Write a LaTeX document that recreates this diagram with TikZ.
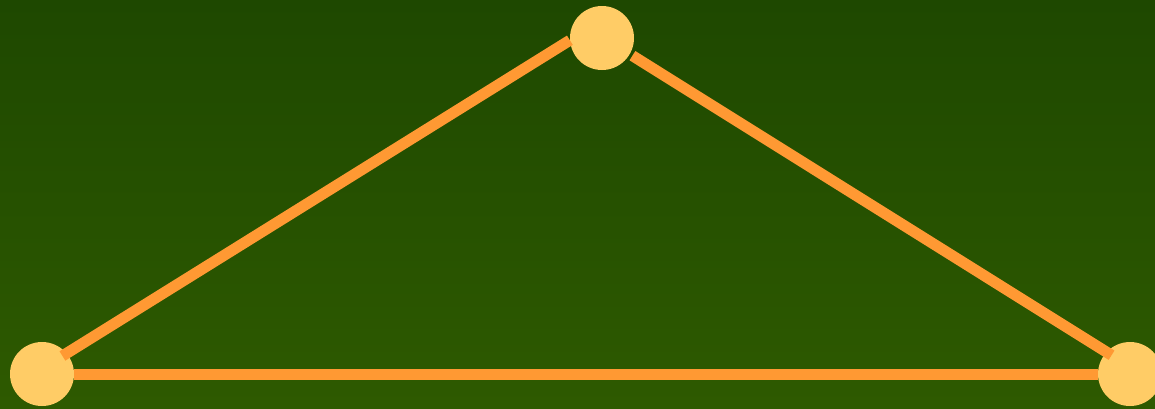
\documentclass[tikz,border=0pt]{standalone}
\usetikzlibrary{positioning}

\definecolor{bgtop}{RGB}{30,72,0}
\definecolor{bgbottom}{RGB}{46,90,0}
\definecolor{vertexfill}{RGB}{255,204,102}
\definecolor{edgeorange}{RGB}{255,153,51}

\begin{document}
\begin{tikzpicture}[
    x=1pt, y=-1pt,
    vertex/.style={circle, fill=vertexfill, minimum size=64pt, inner sep=0pt}, % Style for the yellow dots
    edge/.style={draw=edgeorange, line width=11pt}
]

    % --- Background ---
    \shade[top color=bgtop, bottom color=bgbottom] (0,0) rectangle (1155,408);
    \useasboundingbox (0,0) rectangle (1155,408);

    % --- Vertices ---
    \node[vertex] (top)   at (602,38)  {};
    \node[vertex] (left)  at (42,374)  {};
    \node[vertex] (right) at (1130,374) {};

    % --- Edges ---
    \draw[edge] (left) -- (right);
    \draw[edge, shorten <=-5pt] (left.40) -- (top.184);
    \draw[edge, shorten <=3pt, shorten >=-6pt] (top.-30) -- (right.137);

\end{tikzpicture}
\end{document}
